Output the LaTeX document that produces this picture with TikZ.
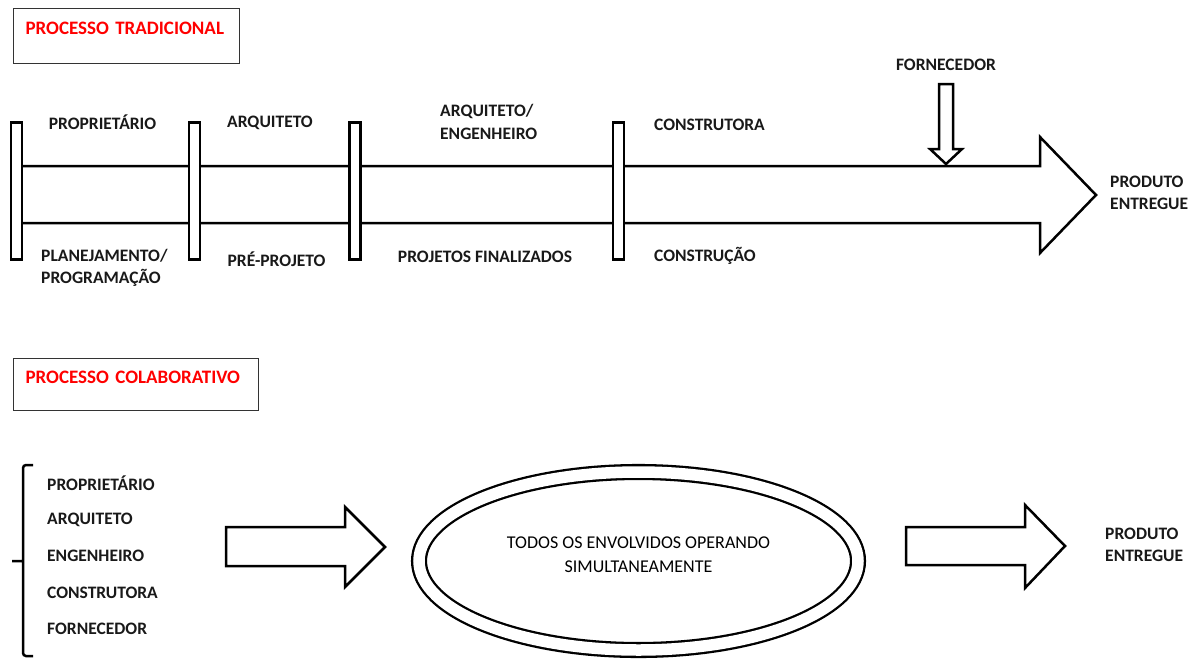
\documentclass[tikz,border=0pt]{standalone}
\usepackage{fontspec}
\setmainfont{Carlito}
\usetikzlibrary{calc,positioning,shapes}
\tikzstyle{heading}=[
  anchor=north west,
  draw=black!80,
  line width=1.2pt,
  inner xsep=12pt,
  inner ysep=0pt,
  align=left,
  text=red,
  font={\bfseries\fontsize{19}{22}\selectfont},
]
\tikzstyle{phase}=[
  draw=black,
  fill=white,
  line width=2.8pt,
  rectangle,
  inner sep=0pt,
  minimum width=11pt,
  minimum height=137pt,
]
\tikzstyle{tag}=[
  inner sep=0pt,
  align=left,
  text=black!90,
  font={\bfseries\fontsize{17.5}{22.5}\selectfont},
]
\tikzstyle{band}=[
  draw=black,
  fill=white,
  line width=2.5pt,
  line join=miter,
]
\tikzset{
  node distance=36.5pt,
}
\begin{document}
\begin{tikzpicture}[x=1pt, y=-1pt]
  \useasboundingbox (0,0) rectangle (1190,659);
  %% processo tradicional
  \node (tradtitle) [heading, text width=202pt, text height=26pt, text depth=29pt] at (13,8) {\mbox{PROCESSO TRADICIONAL}};
  \draw [band] (17,166) -- (1040,166) -- (1040,137) -- (1096,195)
    -- (1040,253) -- (1040,223) -- (17,223);
  \node (sep1) [phase] at (16.5,191) {};
  \node (sep2) [phase] at (194.5,191) {};
  \node (sep3) [phase] at (355,191) {};
  \node (sep4) [phase] at (618.5,191) {};
  %%
  \node (proprietario) [tag] at (102.5,122) {PROPRIETÁRIO};
  \node (arquiteto) [tag] at (270,123) {ARQUITETO};
  \node (arqeng) [tag, anchor=west] at (440,122) {ARQUITETO/\\ENGENHEIRO};
  \node (construtora) [tag, anchor=west] at (654,125) {CONSTRUTORA};
  \node (planejamento) [tag, anchor=west] at (41,268) {PLANEJAMENTO/\\PROGRAMAÇÃO};
  \node (preprojeto) [tag] at (276.5,259) {PRÉ-PROJETO};
  \node (finalizados) [tag] at (485,257) {PROJETOS FINALIZADOS};
  \node (construcao) [tag, anchor=west] at (654,256) {CONSTRUÇÃO};
  \node (produto) [tag, anchor=west] at (1110,193) {PRODUTO\\ENTREGUE};
  %%
  \node (fornecedor) [tag] at (946,65) {FORNECEDOR};
  \draw [band] ($(fornecedor.south)+(-7,13)$) -- ++(0,65) -- ++(-9,0)
    -- ++(16,15) -- ++(16,-15) -- ++(-9,0) -- ++(0,-65) -- cycle;
  %% processo colaborativo
  \node (colabtitle) [heading, text width=221pt, text height=25pt, text depth=27pt] at (13,358) {\mbox{PROCESSO COLABORATIVO}};
  \node (own) [tag, anchor=west] at (47,483) {PROPRIETÁRIO};
  \node (arch) [tag, below=of own.west, anchor=west] {ARQUITETO};
  \node (eng) [tag, below=of arch.west, anchor=west] {ENGENHEIRO};
  \node (builder) [tag, below=of eng.west, anchor=west] {CONSTRUTORA};
  \node (supplier) [tag, below=of builder.west, anchor=west] {FORNECEDOR};
  \draw [line width=2.5pt, rounded corners=3pt] (33,465) -- (23,465) -- (23,656) -- (33,656)
    (12,561) -- (23,561);
  %%
  \node (todos) [ellipse, draw=black, double, double distance=11.5pt, line width=2.3pt,
    minimum width=439pt, minimum height=178pt] at (638.5,561) {};
  \node (todostext) [align=center, inner sep=0pt, font={\fontsize{18}{24}\selectfont}]
    at ($(todos.center)+(0,-6)$) {TODOS OS ENVOLVIDOS OPERANDO\\SIMULTANEAMENTE};
  \coordinate (inA) at (226,546.5);
  \coordinate (inB) at (906,546);
  \draw [band] ($(inA)+(0,-19.5)$) -- ++(119,0) -- ++(0,-20) -- (385,547)
    -- (345,587) -- ++(0,-21) -- ++(-119,0) -- cycle;
  \draw [band] ($(inB)+(0,-19)$) -- ++(119,0) -- ++(0,-22) -- (1065,546)
    -- (1025,588) -- ++(0,-23) -- ++(-119,0) -- cycle;
  \node (entregue) [tag, anchor=west] at (1105,545) {PRODUTO\\ENTREGUE};
\end{tikzpicture}
\end{document}
